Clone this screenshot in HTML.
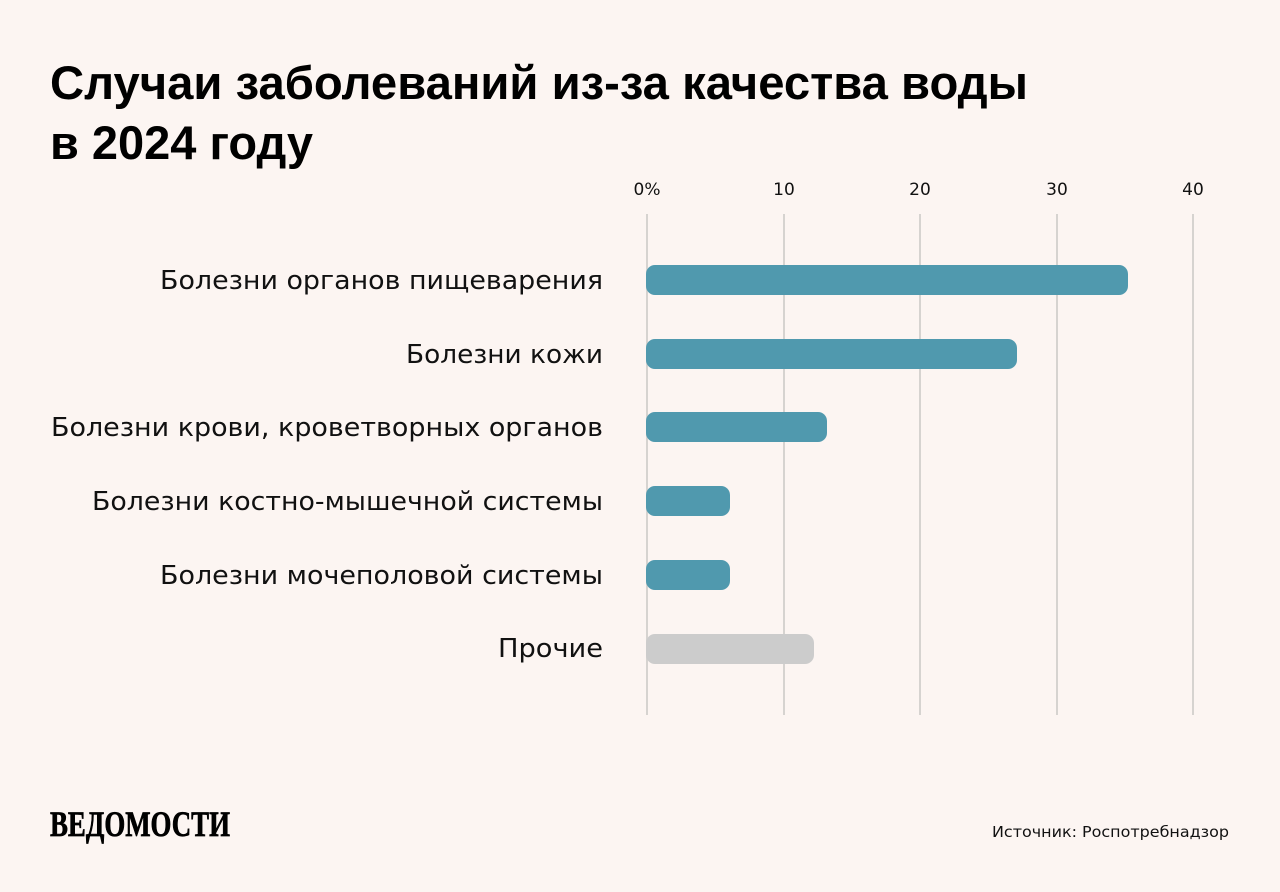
<!DOCTYPE html>
<html><head><meta charset="utf-8"><style>
html,body{margin:0;padding:0;background:#fcf5f2;}
svg{display:block;}
</style></head><body>
<svg width="1280" height="892" viewBox="0 0 1280 892" xmlns="http://www.w3.org/2000/svg">
<rect width="1280" height="892" fill="#fcf5f2"/>
<g font-family="'Liberation Sans','DejaVu Sans',sans-serif" font-weight="bold" font-size="47" fill="#000">
<text x="50" y="99" textLength="978" lengthAdjust="spacingAndGlyphs">Случаи заболеваний из-за качества воды</text>
<text x="50" y="159" textLength="263" lengthAdjust="spacingAndGlyphs">в 2024 году</text>
</g>
<g stroke="#d6d3d0" stroke-width="2">
<line x1="647" y1="214" x2="647" y2="715"/>
<line x1="784" y1="214" x2="784" y2="715"/>
<line x1="920" y1="214" x2="920" y2="715"/>
<line x1="1057" y1="214" x2="1057" y2="715"/>
<line x1="1193" y1="214" x2="1193" y2="715"/>
</g>
<g font-family="'DejaVu Sans','Liberation Sans',sans-serif" font-size="17" fill="#111" text-anchor="middle">
<text x="647" y="195">0%</text><text x="784" y="195">10</text><text x="920" y="195">20</text><text x="1057" y="195">30</text><text x="1193" y="195">40</text>
</g>
<g fill="#5099ae">
<rect x="646" y="265" width="482" height="30" rx="9"/>
<rect x="646" y="339" width="371" height="30" rx="9"/>
<rect x="646" y="412" width="181" height="30" rx="9"/>
<rect x="646" y="486" width="84" height="30" rx="9"/>
<rect x="646" y="560" width="84" height="30" rx="9"/>
</g>
<rect x="646" y="634" width="168" height="30" rx="9" fill="#cccccc"/>
<g font-family="'DejaVu Sans','Liberation Sans',sans-serif" font-size="26" fill="#111">
<text x="160" y="289" textLength="443" lengthAdjust="spacingAndGlyphs">Болезни органов пищеварения</text>
<text x="406" y="363" textLength="197" lengthAdjust="spacingAndGlyphs">Болезни кожи</text>
<text x="51" y="436" textLength="552" lengthAdjust="spacingAndGlyphs">Болезни крови, кроветворных органов</text>
<text x="92" y="510" textLength="511" lengthAdjust="spacingAndGlyphs">Болезни костно-мышечной системы</text>
<text x="160" y="584" textLength="443" lengthAdjust="spacingAndGlyphs">Болезни мочеполовой системы</text>
<text x="498" y="657" textLength="105" lengthAdjust="spacingAndGlyphs">Прочие</text>
</g>
<text x="0" y="0" transform="translate(50,836) scale(1,1.2)" font-family="'Liberation Serif',serif" font-weight="bold" font-size="30" fill="#000" stroke="#000" stroke-width="0.6" textLength="180" lengthAdjust="spacingAndGlyphs">ВЕДОМОСТИ</text>
<text x="992" y="837" textLength="237" lengthAdjust="spacingAndGlyphs" font-family="'DejaVu Sans','Liberation Sans',sans-serif" font-size="15" fill="#111">Источник: Роспотребнадзор</text>
</svg>
</body></html>
